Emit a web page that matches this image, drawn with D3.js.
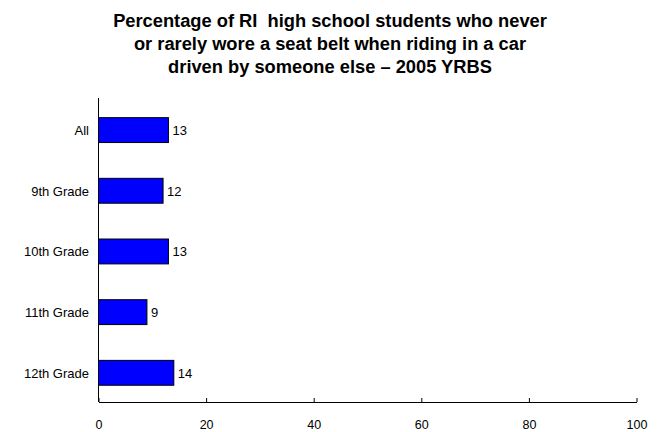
<!DOCTYPE html>
<html>
<head>
<meta charset="utf-8">
<script src="https://cdn.jsdelivr.net/npm/d3@7"></script>
<style>
  body { margin: 0; background: #fff; }
  text { font-family: 'Liberation Sans', Arial, sans-serif; }
</style>
</head>
<body>
<script>
// data:
var categories = ['All', '9th Grade', '10th Grade', '11th Grade', '12th Grade']
var values = [13, 12, 13, 9, 14]
var xTicks = [0, 20, 40, 60, 80, 100]
var titleLines = [
  'Percentage of RI  high school students who never',
  'or rarely wore a seat belt when riding in a car',
  'driven by someone else \u2013 2005 YRBS'
]

// variables:
var w = 657
var h = 432
var plotLeft = 98.5
var plotRight = 636.5
var plotTop = 98
var plotBottom = 402

var svg = d3.select('body')
  .append('svg')
  .attr('width', w)
  .attr('height', h)

var xScale = d3.scaleLinear()
  .domain([0, 100])
  .range([plotLeft, plotRight])

var yScale = d3.scaleBand()
  .domain(categories)
  .range([plotTop, plotBottom])
  .paddingInner(0.59)
  .paddingOuter(0.3)
  .align(0.54)

// title
svg.append('text')
  .attr('x', 330)
  .attr('y', 26.5)
  .attr('text-anchor', 'middle')
  .attr('font-size', '18.3px')
  .attr('font-weight', 'bold')
  .style('white-space', 'pre')
  .selectAll('tspan')
  .data(titleLines)
  .enter()
  .append('tspan')
  .attr('x', 330)
  .attr('dy', function (d, i) { return i === 0 ? 0 : 23.3 })
  .text(function (d) { return d })

// bars
svg.selectAll('rect.bar')
  .data(values)
  .enter()
  .append('rect')
  .attr('class', 'bar')
  .attr('x', xScale(0))
  .attr('y', function (d, i) { return yScale(categories[i]) })
  .attr('width', function (d) { return xScale(d) - xScale(0) })
  .attr('height', yScale.bandwidth())
  .attr('fill', '#0000ff')
  .attr('stroke', '#000')
  .attr('stroke-width', 1)

// value labels
svg.selectAll('text.val')
  .data(values)
  .enter()
  .append('text')
  .attr('class', 'val')
  .text(function (d) { return d })
  .attr('x', function (d) { return xScale(d) + 4 })
  .attr('y', function (d, i) { return yScale(categories[i]) + yScale.bandwidth() / 2 })
  .attr('dy', '0.38em')
  .attr('font-size', '13px')

// y axis line and labels
svg.append('line')
  .attr('x1', plotLeft).attr('x2', plotLeft)
  .attr('y1', plotTop).attr('y2', plotBottom)
  .attr('stroke', '#000')

svg.selectAll('text.cat')
  .data(categories)
  .enter()
  .append('text')
  .attr('class', 'cat')
  .text(function (d) { return d })
  .attr('x', 89)
  .attr('y', function (d) { return yScale(d) + yScale.bandwidth() / 2 })
  .attr('dy', '0.38em')
  .attr('text-anchor', 'end')
  .attr('font-size', '13px')

// x axis, ticks point up into the plot
var xAxis = d3.axisBottom(xScale)
  .tickValues(xTicks)
  .tickSize(-4)
  .tickPadding(18)
  .tickSizeOuter(0)

var gx = svg.append('g')
  .attr('transform', 'translate(0,' + plotBottom + ')')
  .call(xAxis)

gx.select('.domain').attr('stroke', '#000')
gx.selectAll('.tick line').attr('stroke', '#000')
gx.selectAll('.tick text')
  .attr('font-family', "'Liberation Sans', Arial, sans-serif")
  .attr('font-size', '12.5px')
  .attr('fill', '#000')
</script>
</body>
</html>
